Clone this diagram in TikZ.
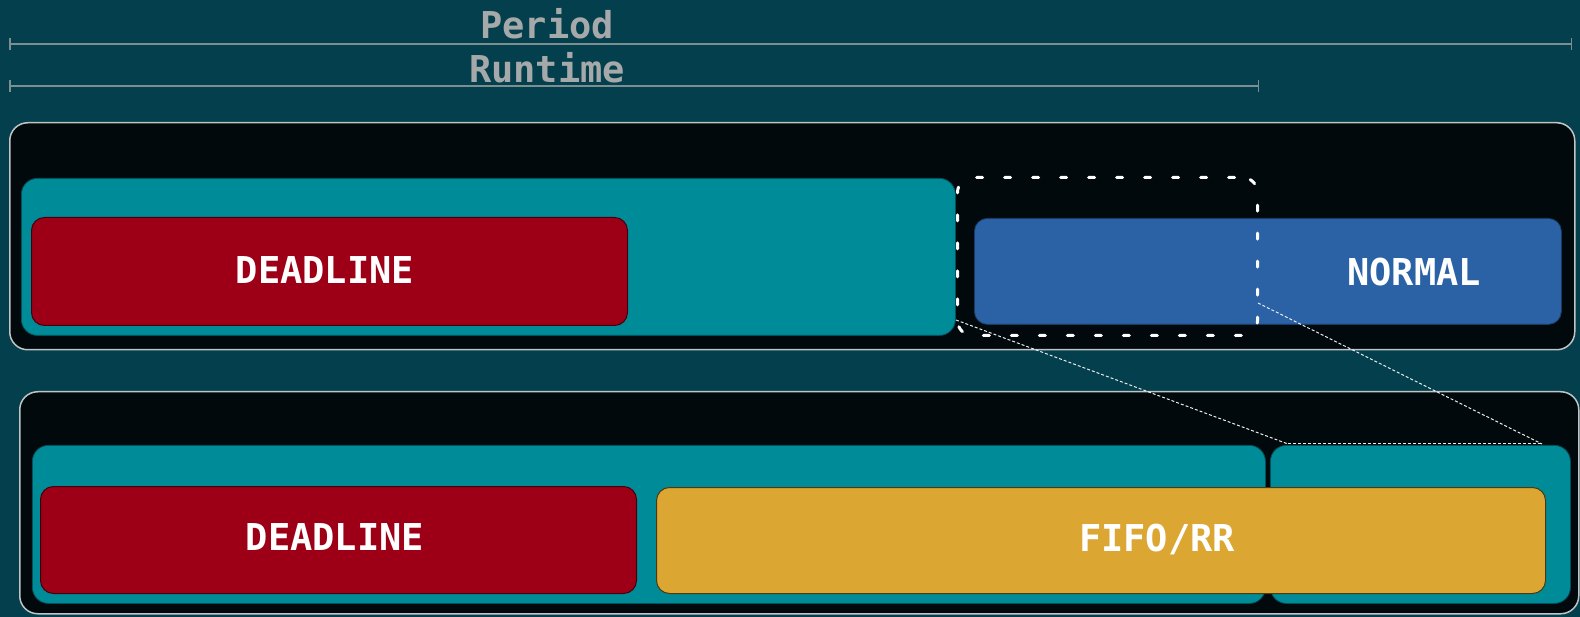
\documentclass[tikz,border=0pt]{standalone}
\usepackage{fontspec}
\setmonofont{DejaVu Sans Mono}
\usetikzlibrary{arrows.meta}
\definecolor{bg}{HTML}{043F4D}
\definecolor{outerfill}{HTML}{01090C}
\definecolor{outerline}{HTML}{BFC4C4}
\definecolor{tealc}{HTML}{008B98}
\definecolor{redc}{HTML}{9D0016}
\definecolor{bluec}{HTML}{2A62A5}
\definecolor{yellowc}{HTML}{DBA631}
\definecolor{graytext}{HTML}{A6A9A9}
\definecolor{grayline}{HTML}{7D8E91}
\tikzset{
  lbl/.style={font=\fontsize{37}{40}\selectfont\ttfamily\bfseries},
  dimtext/.style={lbl, text=graytext, inner sep=0pt},
  dimline/.style={draw=grayline, line width=1.5pt, {Bar[width=12pt,line width=1.5pt]}-{Bar[width=12pt,line width=1.5pt]}},
  boxbase/.style={anchor=north west, inner sep=0pt, rectangle},
  outerbox/.style={boxbase, fill=outerfill, draw=outerline, line width=1.5pt, rounded corners=18pt},
  tealbox/.style={boxbase, fill=tealc, draw=tealc!60!black, line width=0.8pt, rounded corners=16pt},
  redbox/.style={boxbase, fill=redc, draw=redc!45!black, line width=1pt, rounded corners=13pt},
  bluebox/.style={boxbase, fill=bluec, draw=bluec!60!black, line width=0.8pt, rounded corners=13pt},
  yellowbox/.style={boxbase, fill=yellowc, draw=yellowc!35!black, line width=1pt, rounded corners=13pt},
  dotbox/.style={boxbase, draw=white, line width=3pt, line cap=round, dash pattern=on 6pt off 22pt, dash phase=-8pt, rounded corners=15pt},
  connector/.style={draw=white!85!gray, line width=1pt, dash pattern=on 3pt off 2pt},
  tlabel/.style={lbl, text=white, inner sep=0pt}
}
\begin{document}
\begin{tikzpicture}[x=1pt,y=-1pt]
\fill[bg] (0,0) rectangle (1580,617);
\useasboundingbox (0,0) rectangle (1580,617);

% dimension lines
\coordinate (pa) at (9,44);
\coordinate (pb) at (1572,44);
\coordinate (ra) at (9,86);
\coordinate (rb) at (1259,86);
\draw[dimline] (pa) -- (pb);
\draw[dimline] (ra) -- (rb);
\node[dimtext] (period) at (547,24) {Period};
\node[dimtext] (runtime) at (547,68) {Runtime};

% top section
\node[outerbox, minimum width=1565pt, minimum height=227pt] (top) at (9,122) {};
\node[tealbox, minimum width=934pt, minimum height=157pt] (tteal) at (21,178) {};
\node[redbox, minimum width=596pt, minimum height=108pt] (tred) at (31,217) {};
\node[tlabel] (tdl) at (325,270) {DEADLINE};
\node[bluebox, minimum width=587pt, minimum height=106pt] (tblue) at (974,218) {};
\node[tlabel] (tnorm) at (1414,272) {NORMAL};
\node[dotbox, minimum width=300pt, minimum height=158pt] (dotr) at (956,176) {};

% bottom section
\node[outerbox, minimum width=1559pt, minimum height=222pt] (bot) at (19,391) {};
\node[tealbox, minimum width=1233pt, minimum height=158pt] (bteal) at (32,445) {};
\node[tealbox, minimum width=300pt, minimum height=158pt] (bteal2) at (1270,445) {};
\node[redbox, minimum width=596pt, minimum height=107pt] (bred) at (40,486) {};
\node[tlabel] (bdl) at (335,537) {DEADLINE};
\node[yellowbox, minimum width=889pt, minimum height=106pt] (byel) at (656,487) {};
\node[tlabel] (bfifo) at (1157,539) {FIFO/RR};

% connectors
\coordinate (c1) at (956,320);
\coordinate (c2) at (1258,303);
\coordinate (d1) at (1288,444);
\coordinate (d2) at (1542,444);
\draw[connector] (c1) -- (d1);
\draw[connector] (c2) -- (d2);
\draw[connector] (d1) -- (d2);
\end{tikzpicture}
\end{document}
